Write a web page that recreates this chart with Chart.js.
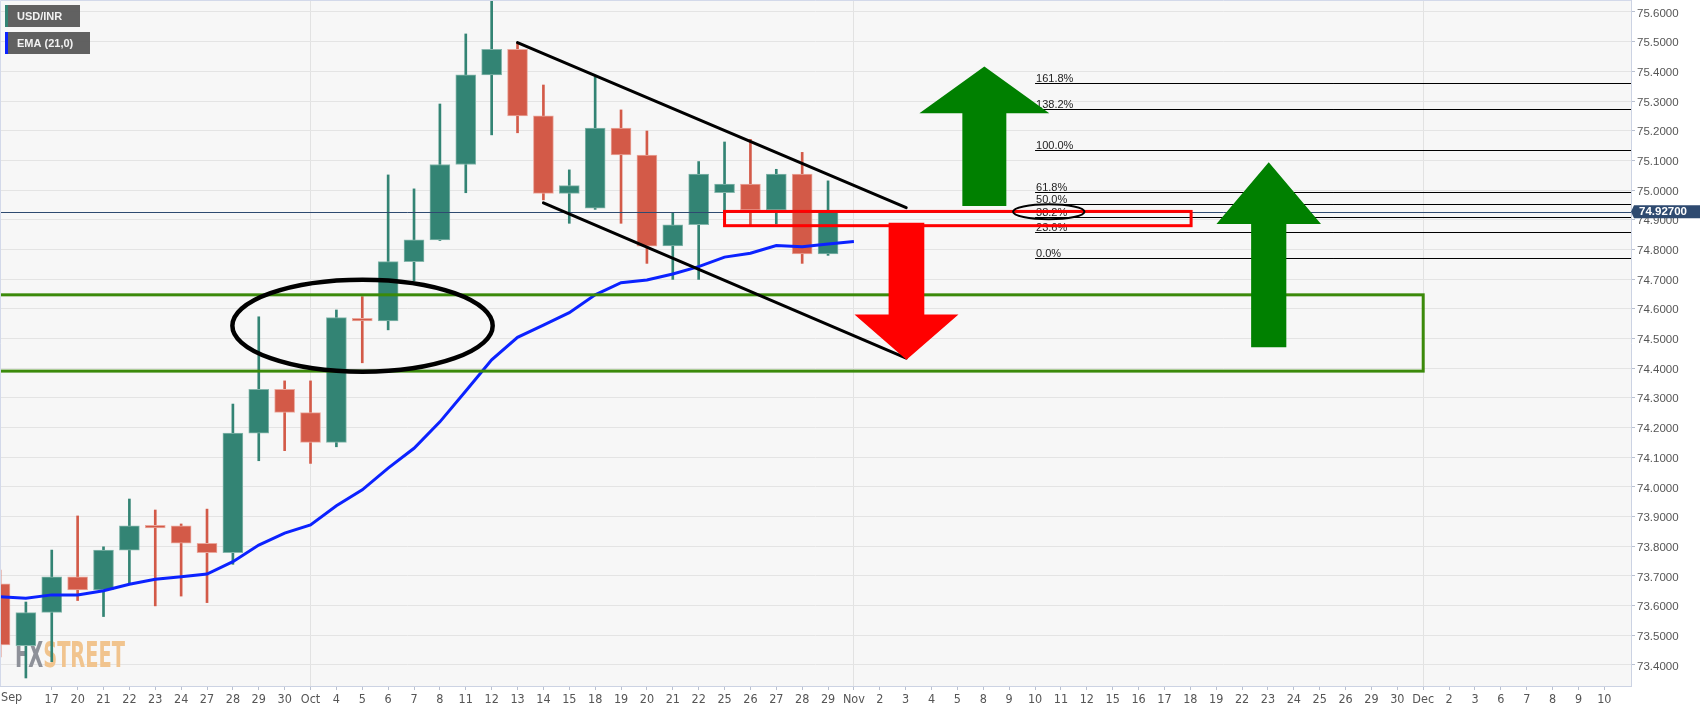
<!DOCTYPE html>
<html>
<head>
<meta charset="utf-8">
<script src="https://cdn.jsdelivr.net/npm/chart.js@4.4.0/dist/chart.umd.min.js"></script>
<style>
  html, body { margin: 0; padding: 0; background: #ffffff; }
  #wrap { width: 1707px; height: 712px; position: relative; }
</style>
</head>
<body>
<div id="wrap"><canvas id="chart"></canvas></div>
<script>
// trading days Sep 15 .. Dec 10, one slot per day on the x axis
const dayLabels = ['15', '16', '17', '20', '21', '22', '23', '24', '27', '28', '29', '30',
    'Oct', '4', '5', '6', '7', '8', '11', '12', '13', '14', '15', '18', '19', '20', '21', '22',
    '25', '26', '27', '28', '29', 'Nov', '2', '3', '4', '5', '8', '9', '10', '11', '12',
    '15', '16', '17', '18', '19', '22', '23', '24', '25', '26', '29', '30',
    'Dec', '2', '3', '6', '7', '8', '9', '10'];
const monthStarts = [12, 33, 55];
const stickyMonth = 'Sep';

// USD/INR daily candles
const opens = [73.673, 73.465, 73.577, 73.697, 73.653, 73.787, 73.870, 73.869, 73.810, 73.778,
    74.181, 74.329, 74.250, 74.150, 74.568, 74.559, 74.759, 74.832, 75.086, 75.388,
    75.474, 75.250, 74.989, 74.939, 75.209, 75.118, 74.812, 74.883, 74.991, 75.020,
    74.933, 75.054, 74.785];
const highs = [73.720, 73.612, 73.787, 73.902, 73.798, 73.959, 73.922, 73.875, 73.925, 74.279,
    74.573, 74.357, 74.357, 74.596, 74.641, 75.051, 75.004, 75.290, 75.526, 75.660,
    75.497, 75.354, 75.068, 75.382, 75.270, 75.199, 74.924, 75.096, 75.162, 75.171,
    75.070, 75.127, 75.031];
const lows = [73.427, 73.356, 73.411, 73.617, 73.563, 73.673, 73.599, 73.632, 73.610, 73.739,
    74.088, 74.122, 74.079, 74.135, 74.418, 74.529, 74.694, 74.830, 74.991, 75.186,
    75.193, 74.967, 74.888, 74.935, 74.888, 74.753, 74.699, 74.699, 74.922, 74.879,
    74.886, 74.753, 74.780];
const closes = [73.467, 73.576, 73.697, 73.653, 73.787, 73.869, 73.862, 73.810, 73.778, 74.181,
    74.329, 74.251, 74.150, 74.570, 74.559, 74.759, 74.832, 75.086, 75.388, 75.474,
    75.250, 74.989, 75.015, 75.209, 75.118, 74.811, 74.883, 75.054, 75.020, 74.933,
    75.054, 74.785, 74.927];
const ema21 = [73.630, 73.625, 73.636, 73.636, 73.650, 73.672, 73.689, 73.697, 73.706, 73.748,
    73.804, 73.844, 73.872, 73.936, 73.990, 74.063, 74.130, 74.219, 74.323, 74.428,
    74.504, 74.545, 74.587, 74.647, 74.688, 74.697, 74.717, 74.742, 74.774, 74.787,
    74.813, 74.809, 74.818, 74.827];
const lastPrice = 74.927;

const yTicks = [73.4, 73.5, 73.6, 73.7, 73.8, 73.9, 74.0, 74.1, 74.2, 74.3, 74.4, 74.5,
    74.6, 74.7, 74.8, 74.9, 75.0, 75.1, 75.2, 75.3, 75.4, 75.5, 75.6];

// fibonacci levels
const fibLabels = ['161.8%', '138.2%', '100.0%', '61.8%', '50.0%', '38.2%', '23.6%', '0.0%'];
const fibPrices = [75.360, 75.272, 75.134, 74.995, 74.952, 74.908, 74.858, 74.770];
const fibStart = 40;

// hand drawn marks, in (day slot, price)
const trendLines = [[20, 75.497, 35.02, 74.941], [21, 74.957, 35.02, 74.434]];
const zoneBox = [-0.5, 74.647, 55, 74.390];
const redBox = [28, 74.928, 46.03, 74.880];
const ellipses = [[14.01, 74.543, 5.03, 0.155], [40.53, 74.927, 1.38, 0.025]];
// x, tip, head base, tail, head half width, shaft half width
const upArrows = [[38.04, 75.416, 75.259, 74.946, 2.51, 0.85], [49.03, 75.094, 74.886, 74.470, 2.02, 0.68]];
const downArrows = [[35.03, 74.428, 74.581, 74.890, 2.01, 0.69]];

const UP = '#338474';
const DOWN = '#d35a48';
const SANS = '"Liberation Sans", Arial, sans-serif';
const NARROW = '"Liberation Sans Narrow", "DejaVu Sans Condensed", sans-serif';

const bodies = opens.map((o, i) => ({x: i, y: [o, closes[i]]}));
const wicks = lows.map((l, i) => ({x: i, y: [l, highs[i]]}));
const candleColors = opens.map((o, i) => closes[i] >= o ? UP : DOWN);
const edgeColors = opens.map((o, i) => closes[i] >= o ? '#84b6ab' : '#eaa89d');
const emaPoints = ema21.map((v, i) => ({x: i, y: v}));
const xTickIdx = dayLabels.map((_, i) => i).slice(2);

const px = (chart, v) => chart.scales.x.getPixelForValue(v);
const py = (chart, v) => chart.scales.y.getPixelForValue(v);

const drawArrow = (chart, a, color) => {
    const ctx = chart.ctx;
    const cx = px(chart, a[0]);
    const hw = px(chart, a[0] + a[4]) - cx;
    const sw = px(chart, a[0] + a[5]) - cx;
    const tip = py(chart, a[1]), base = py(chart, a[2]), tail = py(chart, a[3]);
    ctx.fillStyle = color;
    ctx.beginPath();
    ctx.moveTo(cx, tip);
    ctx.lineTo(cx + hw, base);
    ctx.lineTo(cx + sw, base);
    ctx.lineTo(cx + sw, tail);
    ctx.lineTo(cx - sw, tail);
    ctx.lineTo(cx - sw, base);
    ctx.lineTo(cx - hw, base);
    ctx.closePath();
    ctx.fill();
};

const drawBox = (chart, b, color, width) => {
    const ctx = chart.ctx;
    const x1 = px(chart, b[0]), y1 = py(chart, b[1]);
    const x2 = px(chart, b[2]), y2 = py(chart, b[3]);
    ctx.strokeStyle = color;
    ctx.lineWidth = width;
    ctx.strokeRect(x1, y1, x2 - x1, y2 - y1);
};

const drawingsPlugin = {
    id: 'drawings',
    beforeDraw(chart) {
        const {ctx, chartArea: a} = chart;
        ctx.save();
        ctx.fillStyle = '#f7f7f7';
        ctx.fillRect(a.left, a.top, a.right - a.left, a.bottom - a.top);
        ctx.restore();
    },
    beforeDatasetsDraw(chart) {
        // watermark
        const ctx = chart.ctx;
        ctx.save();
        ctx.font = 'bold 36px "DejaVu Sans Condensed", sans-serif';
        const w1 = ctx.measureText('FX').width;
        const w2 = ctx.measureText('STREET').width;
        ctx.translate(15, 667);
        ctx.scale(110 / (w1 + w2), 1);
        ctx.fillStyle = '#8e9199';
        ctx.fillText('FX', 0, 0);
        ctx.fillStyle = '#f1c48e';
        ctx.fillText('STREET', w1, 0);
        ctx.restore();
    },
    afterDatasetsDraw(chart) {
        const {ctx, chartArea: a} = chart;
        ctx.save();
        ctx.beginPath();
        ctx.rect(a.left, a.top, a.right - a.left, a.bottom - a.top);
        ctx.clip();

        // last price line
        const yP = Math.round(py(chart, lastPrice)) + 0.5;
        ctx.strokeStyle = '#2e4a70';
        ctx.lineWidth = 1;
        ctx.beginPath();
        ctx.moveTo(a.left, yP);
        ctx.lineTo(a.right, yP);
        ctx.stroke();

        // fibonacci
        const fx = px(chart, fibStart);
        ctx.font = '11px ' + SANS;
        ctx.textAlign = 'left';
        ctx.textBaseline = 'alphabetic';
        fibPrices.forEach((p, i) => {
            const y = Math.round(py(chart, p)) + 0.5;
            ctx.strokeStyle = '#000';
            ctx.lineWidth = 1;
            ctx.beginPath();
            ctx.moveTo(fx, y);
            ctx.lineTo(a.right, y);
            ctx.stroke();
            ctx.fillStyle = '#222';
            ctx.fillText(fibLabels[i], fx + 1, y - 2);
        });

        drawBox(chart, zoneBox, '#3b8a0a', 3);
        drawBox(chart, redBox, '#ff0000', 3);

        ctx.strokeStyle = '#000';
        ctx.lineCap = 'round';
        trendLines.forEach(t => {
            ctx.lineWidth = 3;
            ctx.beginPath();
            ctx.moveTo(px(chart, t[0]), py(chart, t[1]));
            ctx.lineTo(px(chart, t[2]), py(chart, t[3]));
            ctx.stroke();
        });

        ellipses.forEach((e, i) => {
            const cx = px(chart, e[0]), cy = py(chart, e[1]);
            const rx = px(chart, e[0] + e[2]) - cx;
            const ry = py(chart, e[1] - e[3]) - cy;
            ctx.lineWidth = i === 0 ? 4.5 : 2;
            ctx.beginPath();
            ctx.ellipse(cx, cy, rx, ry, 0, 0, Math.PI * 2);
            ctx.stroke();
        });

        upArrows.forEach(ar => drawArrow(chart, ar, '#008000'));
        downArrows.forEach(ar => drawArrow(chart, ar, '#ff0000'));
        ctx.restore();
    },
    afterDraw(chart) {
        const {ctx, chartArea: a} = chart;
        ctx.save();

        // frame
        ctx.strokeStyle = '#d3d9ea';
        ctx.lineWidth = 1;
        ctx.beginPath();
        ctx.moveTo(a.left + 0.5, a.bottom);
        ctx.lineTo(a.left + 0.5, a.top + 0.5);
        ctx.lineTo(a.right, a.top + 0.5);
        ctx.stroke();

        // price tag
        const yP = py(chart, lastPrice);
        ctx.fillStyle = '#2e4a70';
        ctx.beginPath();
        ctx.moveTo(a.right, yP);
        ctx.lineTo(a.right + 3, yP - 6.5);
        ctx.lineTo(1700, yP - 6.5);
        ctx.lineTo(1700, yP + 6.5);
        ctx.lineTo(a.right + 3, yP + 6.5);
        ctx.closePath();
        ctx.fill();
        ctx.fillStyle = '#ffffff';
        ctx.font = 'bold 11.5px ' + SANS;
        ctx.textBaseline = 'middle';
        ctx.textAlign = 'left';
        ctx.fillText(lastPrice.toFixed(5), a.right + 8, yP + 0.5);

        // month shown at the left edge of the time axis
        ctx.fillStyle = '#555';
        ctx.font = '12.5px ' + NARROW;
        ctx.textBaseline = 'middle';
        ctx.fillText(stickyMonth, 1, a.bottom + 12);

        // legend chips
        const chips = [['USD/INR', UP, 5, 75], ['EMA (21,0)', '#0b22ff', 32, 85]];
        chips.forEach(c => {
            ctx.fillStyle = 'rgba(88,88,88,0.95)';
            ctx.fillRect(5, c[2], c[3], 22);
            ctx.fillStyle = c[1];
            ctx.fillRect(5, c[2], 3, 22);
            ctx.fillStyle = '#f2f2f2';
            ctx.font = 'bold 11px ' + SANS;
            ctx.fillText(c[0], 17, c[2] + 11.5);
        });
        ctx.restore();
    }
};

new Chart(document.getElementById('chart'), {
    type: 'bar',
    data: {
        datasets: [
            {
                type: 'line',
                data: emaPoints,
                borderColor: '#0b22ff',
                borderWidth: 3,
                pointRadius: 0,
                tension: 0,
                order: 1
            },
            {
                data: bodies,
                backgroundColor: candleColors,
                borderColor: edgeColors,
                borderWidth: 1,
                borderSkipped: false,
                barThickness: 20,
                grouped: false,
                order: 2
            },
            {
                data: wicks,
                backgroundColor: candleColors,
                barThickness: 2,
                grouped: false,
                order: 3
            }
        ]
    },
    options: {
        responsive: true,
        maintainAspectRatio: false,
        animation: false,
        layout: { padding: 0 },
        plugins: {
            legend: { display: false },
            tooltip: { enabled: false }
        },
        scales: {
            x: {
                type: 'linear',
                offset: false,
                min: 0,
                max: 63.03,
                afterBuildTicks: s => { s.ticks = xTickIdx.map(v => ({value: v})); },
                afterFit: s => { s.height = 26; s.paddingLeft = 0; s.paddingRight = 0; },
                grid: {
                    offset: false,
                    color: c => (c.tick && monthStarts.includes(c.tick.value)) ? '#e2e2e2' : 'rgba(0,0,0,0)',
                    tickColor: '#b9c0d0',
                    tickLength: 4
                },
                border: { color: '#ccd3e3' },
                ticks: {
                    autoSkip: false,
                    maxRotation: 0,
                    padding: 2,
                    color: '#555',
                    font: { family: NARROW, size: 12.5 },
                    callback: v => dayLabels[v]
                }
            },
            y: {
                position: 'right',
                min: 73.329,
                max: 75.6404,
                afterBuildTicks: s => { s.ticks = yTicks.map(v => ({value: v})); },
                afterFit: s => { s.width = 76; s.paddingTop = 0; s.paddingBottom = 0; },
                grid: { color: '#e4e4e4', tickColor: '#b9c0d0', tickLength: 4 },
                border: { color: '#ccd3e3' },
                ticks: {
                    padding: 2,
                    labelOffset: 1.5,
                    color: '#555',
                    font: { family: SANS, size: 11.5 },
                    callback: v => Number(v).toFixed(4)
                }
            }
        }
    },
    plugins: [drawingsPlugin]
});
</script>
</body>
</html>
